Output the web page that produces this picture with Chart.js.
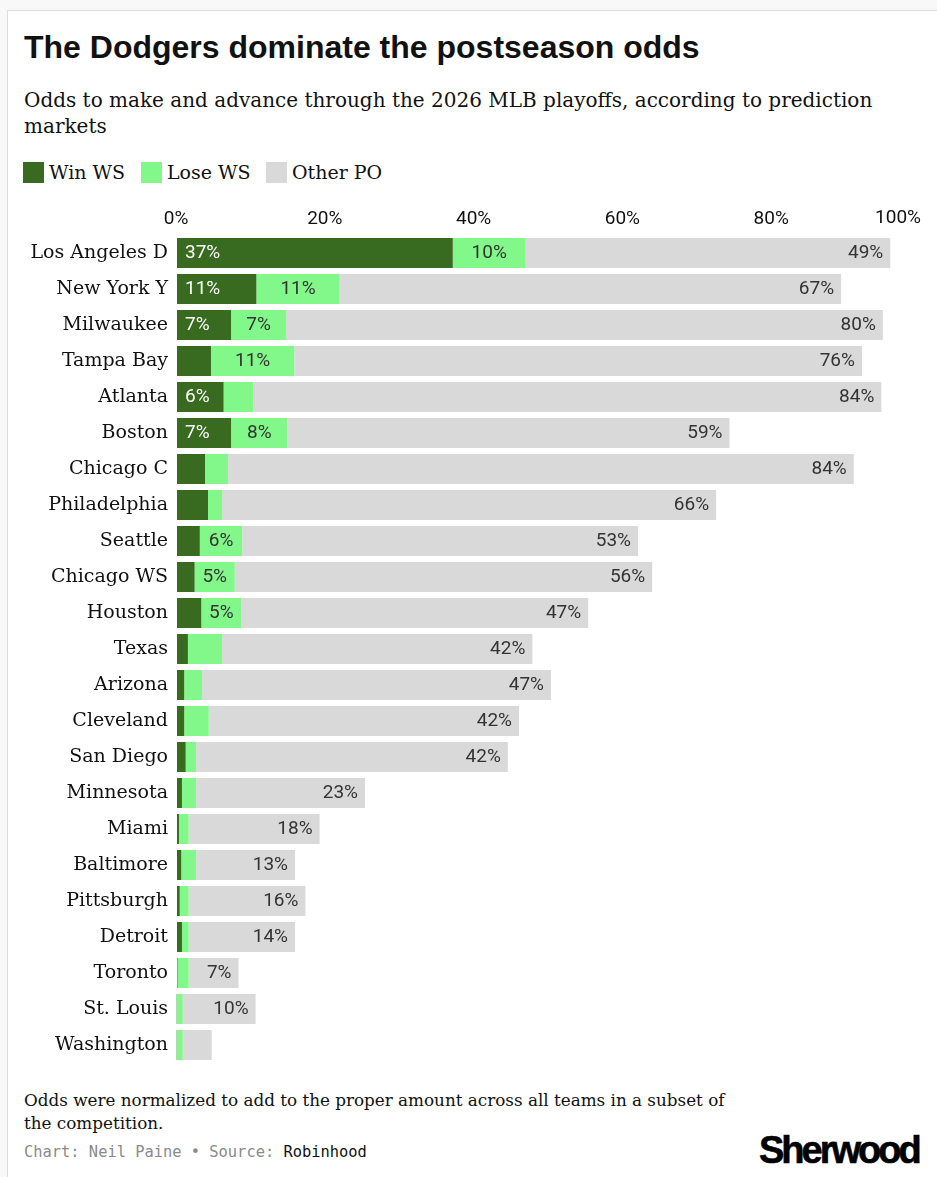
<!DOCTYPE html>
<html>
<head>
<meta charset="utf-8">
<script src="https://cdn.jsdelivr.net/npm/chart.js@4.4.1/dist/chart.umd.min.js"></script>
<style>
    body { margin: 0; background: #f8f8f8; width: 937px; height: 1177px; overflow: hidden; position: relative; }
    #card { position: absolute; left: 7px; top: 10px; width: 960px; height: 1200px; background: #fff; border-top: 1px solid #dcdcdc; border-left: 1px solid #dcdcdc; }
    .abs { position: absolute; white-space: nowrap; }
    #title { left: 24px; top: 31px; font: bold 32px 'Liberation Sans', Arial, sans-serif; line-height: 32px; color: #111; }
    #subtitle { left: 24px; top: 87px; width: 895px; white-space: normal; font: 20px 'DejaVu Serif', serif; line-height: 26px; color: #111; }
    .legBox { position: absolute; top: 162px; width: 21px; height: 21px; }
    .legText { position: absolute; top: 162px; font: 19px 'DejaVu Serif', serif; line-height: 21px; color: #111; }
    #chart { position: absolute; left: 0; top: 195px; }
    #note { left: 24px; top: 1089px; width: 715px; white-space: normal; font: 16.8px 'DejaVu Serif', serif; line-height: 22.6px; color: #111; }
    #source { left: 24px; top: 1143px; font: 15.4px 'DejaVu Sans Mono', monospace; line-height: 18px; color: #8a8a8a; }
    #source span { color: #111; }
    #logo { left: 759px; top: 1131px; font: bold 38px 'Liberation Sans', Arial, sans-serif; line-height: 38px; letter-spacing: -3px; color: #000; -webkit-text-stroke: 0.6px #000; }
</style>
</head>
<body>
<div id="card"></div>
<div id="title" class="abs">The Dodgers dominate the postseason odds</div>
<div id="subtitle" class="abs">Odds to make and advance through the 2026 MLB playoffs, according to prediction markets</div>
<div id="legend"></div>
<canvas id="chart" width="937" height="875"></canvas>
<div id="note" class="abs">Odds were normalized to add to the proper amount across all teams in a subset of the competition.</div>
<div id="source" class="abs">Chart: Neil Paine • Source: <span>Robinhood</span></div>
<div id="logo" class="abs">Sherwood</div>
<script>
'use strict';

const teams = ['Los Angeles D', 'New York Y', 'Milwaukee', 'Tampa Bay', 'Atlanta', 'Boston', 'Chicago C',
    'Philadelphia', 'Seattle', 'Chicago WS', 'Houston', 'Texas', 'Arizona', 'Cleveland', 'San Diego',
    'Minnesota', 'Miami', 'Baltimore', 'Pittsburgh', 'Detroit', 'Toronto', 'St. Louis', 'Washington'];

const winWS = [37.2, 10.8, 7.4, 4.7, 6.4, 7.4, 3.9, 4.3, 3.2, 2.5, 3.4, 1.6, 1.1, 1.1, 1.3, 0.8, 0.4, 0.7, 0.5, 0.8, 0.2, 0.1, 0.1];
const loseWS = [9.8, 11.2, 7.4, 11.2, 4.0, 7.6, 3.1, 1.9, 5.7, 5.4, 5.4, 4.6, 2.4, 3.3, 1.4, 1.9, 1.3, 2.0, 1.2, 0.9, 1.5, 0.8, 0.8];
const otherPO = [49.0, 67.4, 80.2, 76.3, 84.4, 59.4, 84.1, 66.4, 53.2, 56.1, 46.6, 41.7, 46.9, 41.7, 41.9, 22.7, 17.6, 13.3, 15.7, 14.3, 6.7, 9.8, 3.9];

const seriesNames = ['Win WS', 'Lose WS', 'Other PO'];
const seriesColors = ['#386b1f', '#82f78a', '#d9d9d9'];
const xTicks = [0, 20, 40, 60, 80, 100];

const labelFont = '19px Roboto, "Liberation Sans", sans-serif';
const tickPadding = 4;

// Legend built from the series names and colours.
const legendBoxX = [23, 141, 266];
const legendTextX = [49, 167, 292];
let legendHtml = '';
for (let i = 0; i < seriesNames.length; i++) {
    legendHtml += `<div class="legBox" style="left:${legendBoxX[i]}px;background:${seriesColors[i]}"></div>`;
    legendHtml += `<div class="legText" style="left:${legendTextX[i]}px">${seriesNames[i]}</div>`;
}
document.getElementById('legend').innerHTML = legendHtml;

// Percent labels inside the bar segments, plus the last x tick kept inside the canvas.
const segmentLabels = {
    id: 'segmentLabels',
    afterDraw(chart) {
        const ctx = chart.ctx;
        ctx.save();
        ctx.font = labelFont;
        ctx.textBaseline = 'middle';
        chart.data.datasets.forEach((ds, di) => {
            const meta = chart.getDatasetMeta(di);
            meta.data.forEach((bar, i) => {
                const v = ds.data[i];
                if (v < 5) return;
                const text = Math.round(v) + '%';
                const left = Math.min(bar.x, bar.base);
                const right = Math.max(bar.x, bar.base);
                if (di === 0) {
                    ctx.fillStyle = '#ffffff';
                    ctx.textAlign = 'left';
                    ctx.fillText(text, left + 8, bar.y);
                } else if (di === 1) {
                    ctx.fillStyle = '#333333';
                    ctx.textAlign = 'center';
                    ctx.fillText(text, (left + right) / 2, bar.y);
                } else {
                    ctx.fillStyle = '#333333';
                    ctx.textAlign = 'right';
                    ctx.fillText(text, right - 7, bar.y);
                }
            });
        });

        // "100%" is right-aligned to the end of the axis
        const xs = chart.scales.x;
        const last = xTicks[xTicks.length - 1];
        ctx.fillStyle = '#111';
        ctx.textAlign = 'right';
        ctx.textBaseline = 'bottom';
        ctx.fillText(last + '%', xs.getPixelForValue(last) + 1, chart.chartArea.top - tickPadding - 3);
        ctx.restore();
    }
};

const values = [winWS, loseWS, otherPO];

new Chart(document.getElementById('chart'), {
    type: 'bar',
    data: {
        labels: teams,
        datasets: values.map((d, i) => ({
            label: seriesNames[i],
            data: d,
            backgroundColor: seriesColors[i],
            borderWidth: 0,
            barPercentage: 30 / 36,
            categoryPercentage: 1
        }))
    },
    options: {
        responsive: false,
        animation: false,
        indexAxis: 'y',
        layout: { padding: { left: 0, right: 17, top: 0, bottom: 7 } },
        scales: {
            x: {
                position: 'top',
                stacked: true,
                min: 0,
                max: 100,
                z: 1,
                afterBuildTicks: (scale) => {
                    scale.ticks = xTicks.map(v => ({ value: v }));
                },
                afterFit: (scale) => {
                    scale.height = 40;
                    scale.paddingLeft = 0;
                    scale.paddingRight = 0;
                },
                ticks: {
                    callback: (v) => (v === xTicks[xTicks.length - 1] ? '' : v + '%'),
                    font: { family: 'Roboto', size: 19 },
                    color: '#111',
                    padding: tickPadding,
                    maxRotation: 0
                },
                grid: { color: 'rgba(255,255,255,0.45)', lineWidth: 2, drawTicks: false },
                border: { display: false }
            },
            y: {
                stacked: true,
                afterFit: (scale) => {
                    scale.width = 176;
                    scale.paddingTop = 0;
                    scale.paddingBottom = 0;
                },
                ticks: {
                    font: { family: 'DejaVu Serif', size: 19 },
                    color: '#111',
                    padding: 8
                },
                grid: { display: false, drawTicks: false },
                border: { display: false }
            }
        },
        plugins: {
            legend: { display: false },
            tooltip: { enabled: false }
        }
    },
    plugins: [segmentLabels]
});
</script>
</body>
</html>
